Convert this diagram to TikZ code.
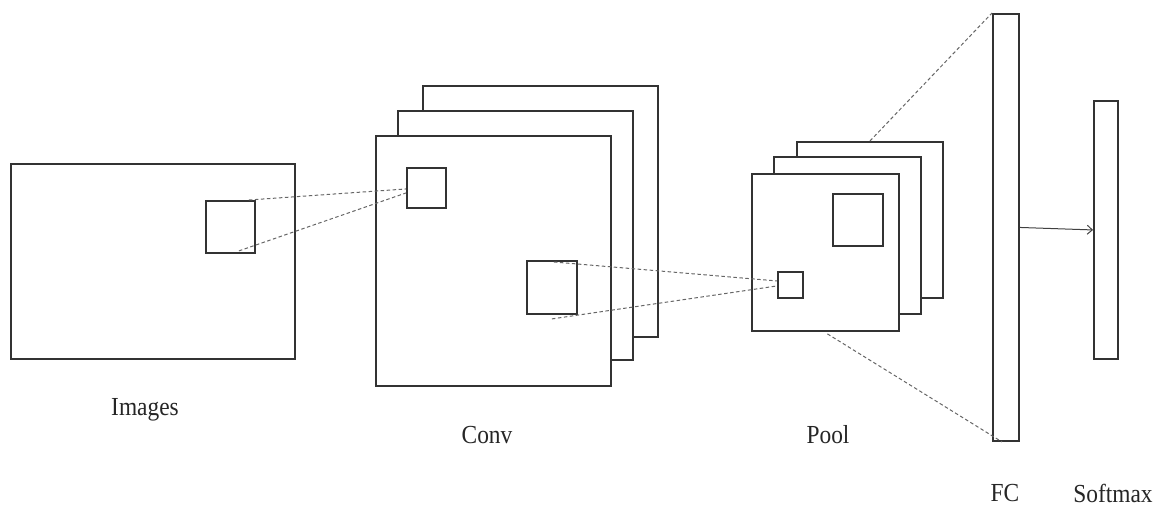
\documentclass[tikz,border=0pt]{standalone}
\usepackage{fontspec}
\setmainfont[FakeStretch=0.9]{Liberation Serif}
\usepackage{tikz}
\usetikzlibrary{positioning,arrows.meta}
\tikzstyle{every node}=[anchor=north west,inner sep=0pt]
\tikzstyle{map}=[draw=black!80,line width=1.9pt,fill=white]
\tikzstyle{win}=[draw=black!80,line width=1.9pt]
\tikzstyle{dashline}=[draw=black!60,line width=1pt,dash pattern=on 3.5pt off 2.5pt]
\tikzstyle{lbl}=[anchor=center,font=\fontsize{26}{30}\selectfont,text=black!85]

\begin{document}
\begin{tikzpicture}[x=1pt,y=-1pt]
  \useasboundingbox (0,0) rectangle (1161,511);
  % input image
  \node[map,minimum width=284pt,minimum height=195pt] (images) at (10,163) {};
  \node[win,minimum width=49pt,minimum height=52pt] (imgwin) at (205,200) {};
  % conv feature maps
  \node[map,minimum width=235pt,minimum height=251pt] (convback) at (422,85) {};
  \node[map,minimum width=235pt,minimum height=249pt] (convmid) at (397,110) {};
  \node[map,minimum width=235pt,minimum height=250pt] (convfront) at (375,135) {};
  \node[win,minimum width=39pt,minimum height=40pt] (convwin) at (406,167) {};
  \node[win,minimum width=50pt,minimum height=53pt] (convwinb) at (526,260) {};
  % pooled maps
  \node[map,minimum width=146pt,minimum height=156pt] (poolback) at (796,141) {};
  \node[map,minimum width=147pt,minimum height=157pt] (poolmid) at (773,156) {};
  \node[map,minimum width=147pt,minimum height=157pt] (poolfront) at (751,173) {};
  \node[win,minimum width=25pt,minimum height=26pt] (poolwin) at (777,271) {};
  \node[win,minimum width=50pt,minimum height=52pt] (poolwinb) at (832,193) {};
  % fully connected + softmax
  \node[map,minimum width=26pt,minimum height=427pt] (fc) at (992,13) {};
  \node[map,minimum width=24pt,minimum height=258pt] (softmax) at (1093,100) {};

  \draw[dashline] ([xshift=-7pt]imgwin.north east) -- ([yshift=-1pt]convwin.west);
  \draw[dashline] ([xshift=-17pt,yshift=3pt]imgwin.south east) -- ([yshift=-5pt]convwin.west);
  \draw[dashline] ([xshift=2pt,yshift=-2pt]convwinb.north) -- ([yshift=4pt]poolwin.west);
  \draw[dashline] ([yshift=-4pt]convwinb.south) -- ([yshift=-1pt]poolwin.west);
  \draw[dashline] (poolback.north) -- (fc.north west);
  \draw[dashline] ([xshift=2pt,yshift=-2pt]poolfront.south) -- ([xshift=10pt]fc.south west);
  \draw[black!75,line width=1pt,-{Straight Barb[length=5pt,width=9pt]}] (fc.east) -- (softmax.west);

  \node[lbl] (imglabel) at (145,410) {Images};
  \node[lbl] (convlabel) at (487,435) {Conv};
  \node[lbl] (poollabel) at (828,435) {Pool};
  \node[lbl] (fclabel) at (1005,493) {FC};
  \node[lbl] (smlabel) at (1113,493) {Softmax};
\end{tikzpicture}
\end{document}
